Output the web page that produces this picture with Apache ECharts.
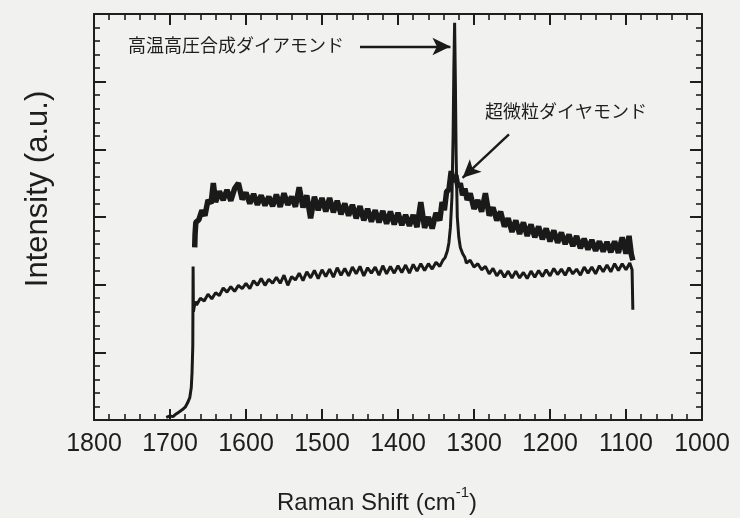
<!DOCTYPE html>
<html>
<head>
<meta charset="utf-8">
<script src="https://cdn.jsdelivr.net/npm/echarts@6/dist/echarts.min.js"></script>
<style>
html,body{margin:0;padding:0;background:#f1f1ef;}
#c{width:740px;height:518px;}
</style>
</head>
<body>
<div id="c"></div>
<script>
// HPHT synthetic diamond (lower trace with sharp 1332 line)
var hphtShift = [1705,1700,1696,1692,1688,1684,1680,1677,1674,1672,1671,1670,1669.6,1669.2,1668,1666.5,
  1665,1660,1655,1650,1645,1640,1635,1630,1625,1620,1615,1610,1605,1600,1595,1590,1585,1580,1575,1570,
  1565,1560,1555,1550,1545,1540,1535,1530,1525,1520,1515,1510,1505,1500,1495,1490,1485,1480,1475,1470,
  1465,1460,1455,1450,1445,1440,1435,1430,1425,1420,1415,1410,1405,1400,1395,1390,1385,1380,1375,1370,
  1365,1360,1355,1350,1345,
  1341,1338,1335,1333,1331,1329,1327.5,1326.5,1325.5,1324.5,1323.5,1322,1320,1318,1315,1312,
  1310,1305,1300,1295,1290,1285,1280,1275,1270,1265,1260,1255,1250,1245,1240,1235,1230,1225,1220,1215,
  1210,1205,1200,1195,1190,1185,1180,1175,1170,1165,1160,1155,1150,1145,1140,1135,1130,1125,1120,1115,
  1110,1105,1100,1095,1092,1091];
var hphtIntensity = [0.04,0.06,0.05,0.09,0.12,0.15,0.19,0.25,0.33,0.48,0.70,1.10,2.27,1.60,1.68,1.75,
  1.70,1.80,1.76,1.86,1.79,1.88,1.84,1.95,1.89,1.97,1.90,1.99,1.94,2.02,1.94,2.06,1.99,2.09,1.99,2.08,
  2.02,2.11,2.02,2.14,1.99,2.12,2.07,2.17,2.06,2.19,2.10,2.21,2.09,2.22,2.12,2.23,2.11,2.25,2.14,2.24,
  2.13,2.26,2.16,2.27,2.13,2.25,2.17,2.26,2.14,2.28,2.16,2.27,2.17,2.28,2.18,2.29,2.17,2.30,2.20,2.31,
  2.21,2.31,2.23,2.33,2.27,
  2.36,2.40,2.50,2.62,2.85,3.30,4.20,5.20,5.87,5.00,3.90,3.00,2.70,2.55,2.46,2.40,
  2.32,2.36,2.26,2.31,2.22,2.27,2.16,2.24,2.13,2.21,2.11,2.20,2.10,2.20,2.10,2.18,2.09,2.20,2.11,2.21,
  2.12,2.22,2.13,2.24,2.15,2.23,2.14,2.25,2.16,2.23,2.14,2.26,2.17,2.26,2.16,2.28,2.19,2.29,2.19,2.31,
  2.21,2.31,2.22,2.32,2.22,1.63];

// Ultrafine diamond (upper trace with broad shoulder)
var ufdShift = [1667.5,1667,1666,1662,1658,1654,1650,1646,1643,1640,1635,1630,1625,1620,1615,1610,1605,1600,
  1595,1590,1585,1580,1575,1570,1565,1560,1555,1550,1545,1540,1535,1530,1525,1520,1515,1510,1505,1500,
  1495,1490,1485,1480,1475,1470,1465,1460,1455,1450,1445,1440,1435,1430,1425,1420,1415,1410,1405,1400,
  1395,1390,1385,1380,1375,1370,1365,1360,1355,1350,1345,1342,1339,1336,1333,1330,1327,1324,1321,1318,
  1315,1312,1309,1305,1300,1295,1290,1285,1280,1275,1270,1265,1260,1255,1250,1245,1240,1235,1230,1225,
  1220,1215,1210,1205,1200,1195,1190,1185,1180,1175,1170,1165,1160,1155,1150,1145,1140,1135,1130,1125,
  1120,1115,1110,1105,1100,1096,1093,1091];
var ufdIntensity = [2.55,2.75,2.92,2.96,3.10,3.02,3.25,3.20,3.50,3.22,3.38,3.25,3.40,3.24,3.42,3.50,3.26,3.36,
  3.20,3.34,3.18,3.32,3.17,3.30,3.16,3.33,3.15,3.35,3.18,3.30,3.15,3.44,3.14,3.32,2.98,3.30,3.10,3.28,
  3.08,3.28,3.07,3.24,3.04,3.20,3.02,3.18,2.98,3.16,2.95,3.12,2.93,3.10,2.92,3.09,2.90,3.08,2.89,3.06,
  2.88,3.03,2.87,3.03,2.85,3.22,2.84,3.00,2.83,3.06,2.95,3.22,3.10,3.38,3.40,3.68,3.52,3.62,3.44,3.50,
  3.32,3.42,3.25,3.35,3.12,3.25,3.08,3.35,3.02,3.14,2.95,3.08,2.86,2.98,2.78,2.95,2.75,2.92,2.72,2.89,
  2.70,2.86,2.67,2.83,2.64,2.80,2.62,2.77,2.60,2.74,2.57,2.72,2.54,2.68,2.52,2.66,2.50,2.64,2.49,2.63,
  2.48,2.64,2.47,2.70,2.46,2.72,2.45,2.36];

var labelHPHT = '高温高圧合成ダイアモンド';
var labelUFD = '超微粒ダイヤモンド';

function zip(xs, ys) { return xs.map(function (x, i) { return [x, ys[i]]; }); }

var ink = '#1e1e1e';
var FONT = '"Liberation Sans", Arial, Helvetica, sans-serif';
var CJK = '"Noto Sans CJK JP", sans-serif';

function xAx(pos, showLabel) {
  return {
    type: 'value', position: pos, min: 1000, max: 1800, interval: 100, inverse: true,
    axisLine: { show: true, onZero: false, lineStyle: { color: ink, width: 2 } },
    axisTick: { show: true, inside: true, length: 11, lineStyle: { color: ink, width: 2 } },
    minorTick: { show: true, splitNumber: 5, length: 6, lineStyle: { color: ink, width: 1.6 } },
    axisLabel: { show: showLabel, fontSize: 25, color: ink, margin: 12, fontFamily: FONT,
      formatter: function (v) { return String(v); } },
    splitLine: { show: false }
  };
}
function yAx(pos) {
  return {
    type: 'value', position: pos, min: 0, max: 6, interval: 1,
    axisLine: { show: true, onZero: false, lineStyle: { color: ink, width: 2 } },
    axisTick: { show: true, inside: true, length: 12, lineStyle: { color: ink, width: 2 } },
    minorTick: { show: true, splitNumber: 5, length: 6, lineStyle: { color: ink, width: 1.6 } },
    axisLabel: { show: false },
    splitLine: { show: false }
  };
}

var chart = echarts.init(document.getElementById('c'), null, { renderer: 'canvas' });
chart.setOption({
  animation: false,
  backgroundColor: '#f1f1ef',
  grid: { left: 94, right: 38, top: 14, bottom: 98 },
  xAxis: [xAx('bottom', true), xAx('top', false)],
  yAxis: [yAx('left'), yAx('right')],
  series: [
    {
      type: 'line', data: zip(hphtShift, hphtIntensity), showSymbol: false,
      lineStyle: { color: '#1a1a1a', width: 3 }, z: 3,
      markLine: {
        silent: true, symbol: ['none', 'arrow'], symbolSize: [13, 18],
        label: { show: false },
        lineStyle: { color: '#1a1a1a', width: 2.4, type: 'solid' },
        data: [
          [{ coord: [1450, 5.52] }, { coord: [1331, 5.52] }],
          [{ coord: [1254, 4.22] }, { coord: [1315, 3.58] }]
        ]
      }
    },
    {
      type: 'line', data: zip(ufdShift, ufdIntensity), showSymbol: false,
      lineStyle: { color: '#1a1a1a', width: 5.5 }, z: 3
    }
  ],
  graphic: [
    { type: 'text', left: 128, top: 36, style: { text: labelHPHT, fontSize: 18, fontFamily: CJK, fill: ink } },
    { type: 'text', left: 485, top: 102, style: { text: labelUFD, fontSize: 18, fontFamily: CJK, fill: ink } },
    {
      type: 'text', x: 38, y: 189, rotation: Math.PI / 2,
      style: { text: 'Intensity (a.u.)', fontSize: 31, fontFamily: FONT, fill: ink, align: 'center', verticalAlign: 'middle' }
    },
    {
      type: 'text', x: 377, y: 500,
      style: {
        text: '{a|Raman Shift (cm}{b|-1}{a|)}', align: 'center', verticalAlign: 'middle', fill: ink,
        rich: {
          a: { fontSize: 24, fontFamily: FONT, fill: ink, verticalAlign: 'bottom', lineHeight: 30 },
          b: { fontSize: 15, fontFamily: FONT, fill: ink, verticalAlign: 'top', lineHeight: 30 }
        }
      }
    }
  ]
});
</script>
</body>
</html>
